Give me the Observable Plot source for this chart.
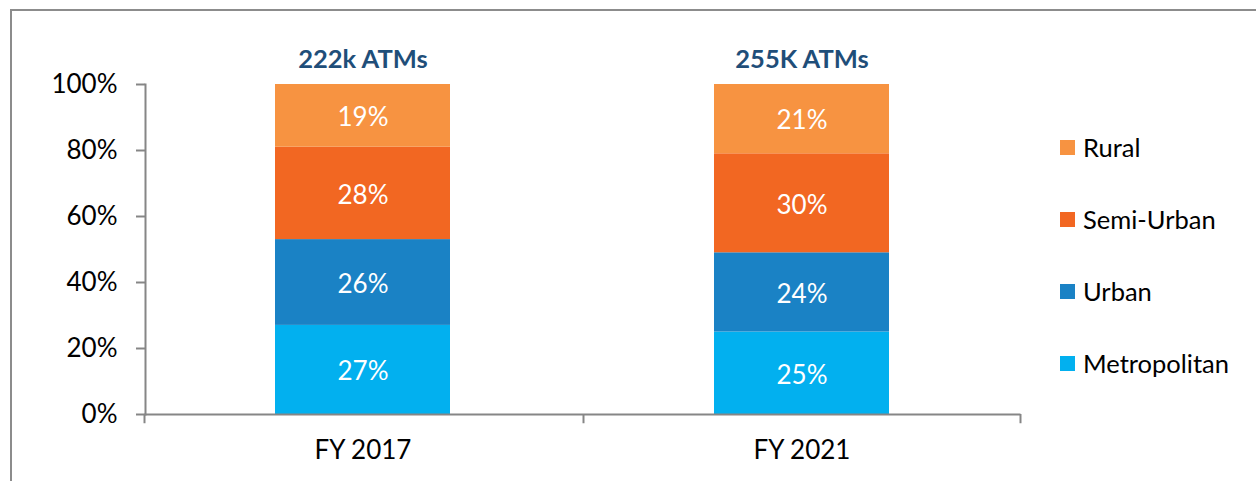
<!DOCTYPE html>
<html>
<head>
<meta charset="utf-8">
<script src="https://cdn.jsdelivr.net/npm/d3@7"></script>
<script src="https://cdn.jsdelivr.net/npm/@observablehq/plot@0.6"></script>
<style>
  html, body { margin: 0; padding: 0; background: #fff; }
  #wrap { position: relative; width: 1256px; height: 481px; overflow: hidden; font-family: Lato, "Open Sans", sans-serif; }
  #border { position: absolute; left: 10px; top: 9px; right: -5px; bottom: -5px; border-top: 2px solid #8c8c8c; border-left: 2px solid #8c8c8c; pointer-events: none; }
  #chart { position: absolute; left: 0; top: 0; }
  #legend { position: absolute; left: 1060px; top: 0; }
  .item { position: absolute; left: 0; display: flex; align-items: center; white-space: nowrap; font-size: 25.5px; color: #000; transform: translateY(-50%); }
  .sw { width: 15px; height: 15px; margin-right: 8px; flex: none; }
</style>
</head>
<body>
<div id="wrap">
  <div id="chart"></div>
  <div id="border"></div>
  <div id="legend"></div>
</div>
<script>
const categories = ["FY 2017", "FY 2021"];
const series = ["Metropolitan", "Urban", "Semi-Urban", "Rural"];
const metropolitan = [27, 25];
const urban = [26, 24];
const semiUrban = [28, 30];
const rural = [19, 21];
const totals = ["222k ATMs", "255K ATMs"];
const yTicks = [0, 20, 40, 60, 80, 100];
const colors = ["#02B0EF", "#1A82C5", "#F26722", "#F79341"];
const legendOrder = ["Rural", "Semi-Urban", "Urban", "Metropolitan"];

const seriesValues = [metropolitan, urban, semiUrban, rural];
const data = categories.flatMap((c, i) =>
  series.map((s, j) => ({category: c, series: s, value: seriesValues[j][i]}))
);

const W = 1256, H = 481;
const mL = 145, mR = 237, mT = 84, mB = 67;
const halfStep = (W - mL - mR) / categories.length / 2;
const axisColor = "#868686";

const plot = Plot.plot({
  width: W,
  height: H,
  marginLeft: mL,
  marginRight: mR,
  marginTop: mT,
  marginBottom: mB,
  style: {fontFamily: "Lato, 'Open Sans', sans-serif", fontSize: "26px", color: "#000", background: "transparent", overflow: "visible"},
  x: {domain: categories, paddingInner: 0.601, paddingOuter: 0.295, axis: null},
  y: {domain: [0, 100], axis: null},
  color: {domain: series, range: colors},
  marks: [
    Plot.barY(data, {x: "category", y: "value", fill: "series", order: null}),
    Plot.frame({anchor: "left", stroke: axisColor, strokeWidth: 2}),
    Plot.frame({anchor: "bottom", stroke: axisColor, strokeWidth: 2}),
    Plot.ruleX(categories, {x: d => d, dx: -halfStep, y1: 0, y2: -2.8, stroke: axisColor, strokeWidth: 2}),
    Plot.ruleX(categories.slice(-1), {x: d => d, dx: halfStep, y1: 0, y2: -2.8, stroke: axisColor, strokeWidth: 2}),
    Plot.axisY({ticks: yTicks, tickFormat: d => d + "%", tickSize: 9, tickPadding: 19, stroke: axisColor, fill: "#000", fontSize: 26, strokeWidth: 2, label: null}),
    Plot.axisX({tickSize: 0, tickPadding: 26, fill: "#000", fontSize: 26, label: null}),
    Plot.text(data, Plot.stackY({x: "category", y: "value", z: "series", order: null, text: d => d.value + "%", fill: "white", fontSize: 26, dy: 2})),
    Plot.text(categories, {x: d => d, y: 100, text: (d, i) => totals[i], dy: -25, fontWeight: "bold", fill: "#1F4E79", fontSize: 25.5})
  ]
});
document.getElementById("chart").appendChild(plot);

const legendY = [147, 219, 291, 363];
const legend = document.getElementById("legend");
legendOrder.forEach((s, i) => {
  const item = document.createElement("div");
  item.className = "item";
  item.style.top = legendY[i] + "px";
  const sw = document.createElement("span");
  sw.className = "sw";
  sw.style.background = colors[series.indexOf(s)];
  const label = document.createElement("span");
  label.textContent = s;
  item.appendChild(sw);
  item.appendChild(label);
  legend.appendChild(item);
});
</script>
</body>
</html>
